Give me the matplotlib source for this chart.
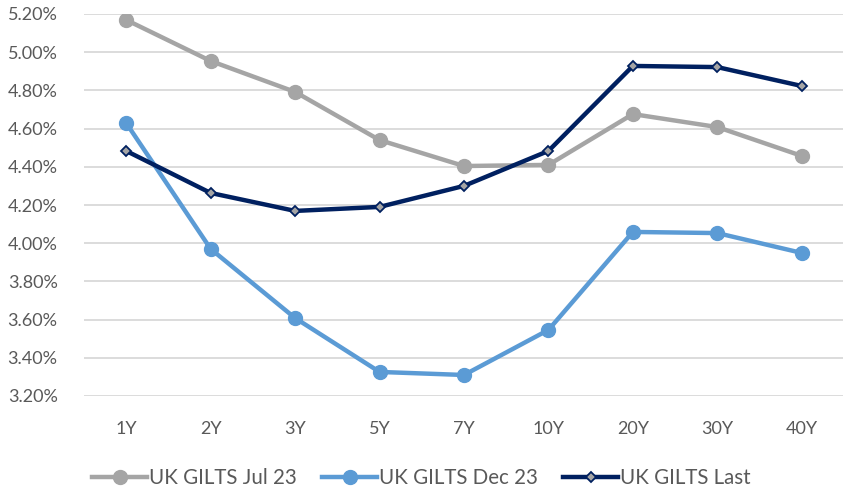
import numpy as np
import matplotlib
matplotlib.use('Agg')
import matplotlib.pyplot as plt
from matplotlib.ticker import FuncFormatter

plt.rcParams['font.family'] = ['Lato', 'DejaVu Sans']

tenors = ['1Y', '2Y', '3Y', '5Y', '7Y', '10Y', '20Y', '30Y', '40Y']
jul23 = [5.169, 4.954, 4.792, 4.540, 4.404, 4.410, 4.676, 4.608, 4.457]
dec23 = [4.629, 3.970, 3.608, 3.326, 3.310, 3.546, 4.059, 4.053, 3.949]
last = [4.483, 4.263, 4.169, 4.190, 4.300, 4.483, 4.928, 4.922, 4.823]

txt = '#595959'
fig = plt.figure(figsize=(8.43, 4.93), dpi=100)
ax = fig.add_axes([84/843, 1-396/493, 760/843, 382/493])

x = np.arange(len(tenors))
ax.plot(x, jul23, color='#A5A5A5', lw=3.2, marker='o', ms=10, label='UK GILTS Jul 23', zorder=3)
ax.plot(x, dec23, color='#5B9BD5', lw=3.2, marker='o', ms=10, label='UK GILTS Dec 23', zorder=3)
ax.plot(x, last, color='#002060', lw=3.2, marker='D', ms=5.5, mfc='#A5A5A5',
        mec='#002060', mew=1.3, label='UK GILTS Last', zorder=4)

ax.set_xlim(-0.5, len(tenors) - 0.5)
ax.set_ylim(3.2, 5.2)
ax.set_yticks(np.arange(3.2, 5.21, 0.2))
ax.yaxis.set_major_formatter(FuncFormatter(lambda v, p: f'{v:.2f}%'))
ax.set_xticks(x)
ax.set_xticklabels(tenors)
ax.grid(axis='y', color='#D9D9D9', lw=1.3)
ax.set_axisbelow(True)
for s in ax.spines.values():
    s.set_visible(False)
ax.tick_params(length=0, labelsize=13, colors=txt)
ax.tick_params(axis='x', pad=18)
ax.tick_params(axis='y', pad=19)

leg = fig.legend(loc='lower center', bbox_to_anchor=(0.5, -0.028), ncol=3, frameon=False,
                 fontsize=14.8, handlelength=2.7, columnspacing=1.2, handletextpad=0.1)
for t in leg.get_texts():
    t.set_color(txt)

fig.savefig('out.png', dpi=100)
